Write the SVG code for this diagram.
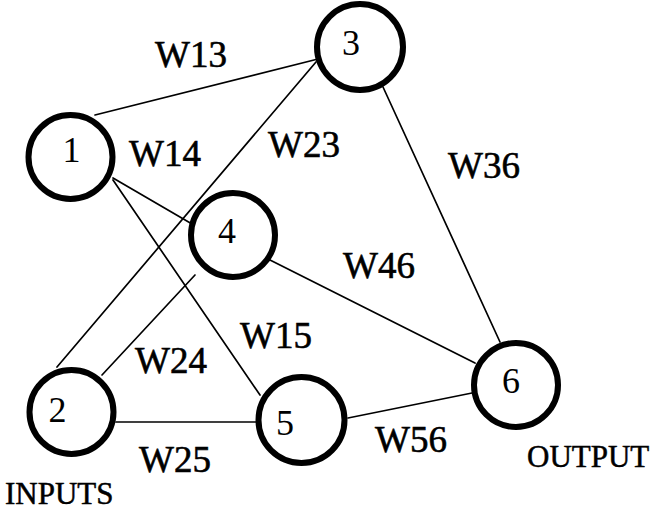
<svg xmlns="http://www.w3.org/2000/svg" width="657" height="512" viewBox="0 0 657 512">
<style>
.edge{stroke:#000;stroke-width:1.7;fill:none;stroke-linecap:round}
.node{fill:#fff;stroke:#000;stroke-width:6}
.num{font-family:"Liberation Serif","Times New Roman",serif;font-size:36px;fill:#000;text-anchor:middle}
.lbl{font-family:"Liberation Serif","Times New Roman",serif;font-size:37px;fill:#000;stroke:#000;stroke-width:0.6}
.io{font-family:"Liberation Serif","Times New Roman",serif;font-size:31px;fill:#000;stroke:#000;stroke-width:0.5}
</style>
<rect width="657" height="512" fill="#fff"/>
<g id="connectors">
<line class="edge" x1="95" y1="115" x2="318" y2="59"/>
<line class="edge" x1="113" y1="178" x2="192" y2="224"/>
<line class="edge" x1="113" y1="180" x2="260" y2="395"/>
<line class="edge" x1="57" y1="367" x2="316" y2="62"/>
<line class="edge" x1="102" y1="375" x2="195" y2="275"/>
<line class="edge" x1="116" y1="422" x2="256" y2="422"/>
<line class="edge" x1="383" y1="87" x2="500" y2="342"/>
<line class="edge" x1="270" y1="260" x2="475" y2="363"/>
<line class="edge" x1="348" y1="418" x2="472" y2="393"/>
</g>
<g id="node1"><circle class="node" cx="70.5" cy="157" r="42"/><text class="num" x="71.5" y="162">1</text></g>
<g id="node2"><circle class="node" cx="71.5" cy="412" r="42"/><text class="num" x="57.5" y="422">2</text></g>
<g id="node3"><circle class="node" cx="360" cy="47" r="43"/><text class="num" x="351" y="55">3</text></g>
<g id="node4"><circle class="node" cx="233" cy="235" r="42"/><text class="num" x="227" y="243">4</text></g>
<g id="node5"><circle class="node" cx="301.5" cy="420" r="43"/><text class="num" x="285" y="435">5</text></g>
<g id="node6"><circle class="node" cx="516" cy="385" r="42"/><text class="num" x="511" y="393">6</text></g>
<g id="labels">
<text class="lbl" x="155" y="67">W13</text>
<text class="lbl" x="129" y="166">W14</text>
<text class="lbl" x="268" y="157">W23</text>
<text class="lbl" x="448" y="178">W36</text>
<text class="lbl" x="343" y="278">W46</text>
<text class="lbl" x="240" y="348">W15</text>
<text class="lbl" x="135" y="373">W24</text>
<text class="lbl" x="139" y="472">W25</text>
<text class="lbl" x="375" y="452">W56</text>
<text class="io" x="5" y="504">INPUTS</text>
<text class="io" x="527" y="467">OUTPUT</text>
</g>
</svg>
